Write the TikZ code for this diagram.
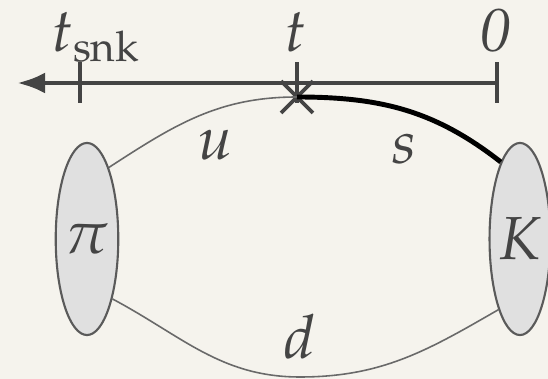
\documentclass[tikz,border=0pt]{standalone}
\usepackage{mathpazo}
\definecolor{bgPaper}{RGB}{245,243,237}
\definecolor{axisGray}{RGB}{68,68,68}
\definecolor{lineGray}{RGB}{105,105,105}
\definecolor{blobFill}{RGB}{224,224,224}
\definecolor{blobEdge}{RGB}{90,90,90}
\usepackage{tikz}
\usetikzlibrary{shapes,arrows.meta,positioning}

\begin{document}
\begin{tikzpicture}[x=0.01cm, y=0.01cm,
    blob/.style={ellipse, draw=blobEdge, fill=blobFill, line width=0.6pt,
      minimum width=0.6cm, minimum height=1.92cm, inner sep=0pt, font=\LARGE, text=axisGray},
    lbl/.style={font=\LARGE, inner sep=0pt, text=axisGray},
    quark/.style={draw=lineGray, line width=0.45pt},
    squark/.style={draw=black, line width=1.4pt},
    tickmark/.style={draw=axisGray, line width=1.1pt}]
    \useasboundingbox (0,0) rectangle (548,379);
    \fill[bgPaper] (0,0) rectangle (548,379);

    % time axis
    \coordinate (axZero) at (497,296);
    \coordinate (axEnd) at (17,296);
    \coordinate (tkSnk) at (80,296);
    \coordinate (tkT) at (297,296);
    \draw[axisGray, line width=1.4pt, -{Latex[length=8pt,width=6pt]}] (axZero) -- (axEnd);
    \foreach \tk in {tkSnk,tkT,axZero}
        \draw[tickmark] (\tk) ++(0,-20) -- ++(0,41);
    \node[lbl, anchor=base] (labSnk) at (96,327) {$t_{\mathrm{snk}}$};
    \node[lbl, anchor=base] (labT) at (296,327) {$t$};
    \node[lbl, anchor=base] (labZero) at (496,327) {$\mathit{0}$};

    % mesons
    \node[blob] (pion) at (87,140) {$\pi$};
    \node[blob] (kaon) at (520,140) {$K$};
    \node[cross out, draw=axisGray, line width=1.1pt, minimum size=0.28cm, inner sep=0pt] (vtx) at (297,282) {};
    \coordinate (bot) at (300,2);

    % quark lines
    \draw[quark] (pion.73) to[out=33,in=180] (vtx.center);
    \draw[squark] (vtx.center) to[out=0,in=142] (kaon.104);
    \draw[quark] (pion.-67) to[out=-28,in=180] (bot);
    \draw[quark] (bot) to[out=0,in=-150] (kaon.-107);

    \node[lbl] (labU) at (215,234) {$u$};
    \node[lbl] (labS) at (404,230) {$s$};
    \node[lbl] (labD) at (300,42) {$d$};
\end{tikzpicture}
\end{document}
